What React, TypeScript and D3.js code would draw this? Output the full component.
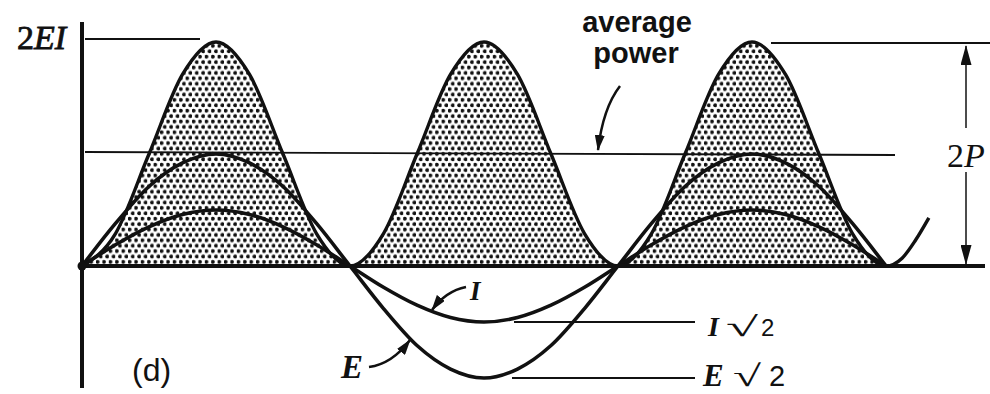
import React from 'react';
import * as d3 from 'd3';

const W = 990;
const H = 394;

// phase in half-cycles (zero crossings at 0, 1, 2, 3)
const phases = d3.range(0, 3.0001, 0.125);
// voltage E (relative amplitude 1)
const eValues = [0, 0.38, 0.71, 0.92, 1, 0.92, 0.71, 0.38, 0, -0.38, -0.71, -0.92, -1, -0.92, -0.71, -0.38, 0, 0.38, 0.71, 0.92, 1, 0.92, 0.71, 0.38, 0];
// current I (relative amplitude 0.5)
const iValues = [0, 0.19, 0.35, 0.46, 0.5, 0.46, 0.35, 0.19, 0, -0.19, -0.35, -0.46, -0.5, -0.46, -0.35, -0.19, 0, 0.19, 0.35, 0.46, 0.5, 0.46, 0.35, 0.19, 0];
// instantaneous power (peak 2EI = 2P)
const powerValues = [0, 0.29, 1, 1.71, 2, 1.71, 1, 0.29, 0, 0.29, 1, 1.71, 2, 1.71, 1, 0.29, 0, 0.29, 1, 1.71, 2, 1.71, 1, 0.29, 0];
const powerTailPhases = [3.06, 3.11, 3.16];
const powerTailValues = [0.07, 0.23, 0.43];
const averagePower = 1;
const peakPower = 2;

const x = d3.scaleLinear().domain([0, 3]).range([82, 886]);
const y = d3.scaleLinear().domain([0, 1]).range([266, 154]);

type Pt = [number, number];
const ePts: Pt[] = phases.map((p, i) => [p, eValues[i]]);
const iPts: Pt[] = phases.map((p, i) => [p, iValues[i]]);
const pPts: Pt[] = phases.map((p, i) => [p, powerValues[i]]);
const pAll: Pt[] = pPts.concat(powerTailPhases.map((p, i) => [p, powerTailValues[i]] as Pt));

const line = d3.line<Pt>().x(d => x(d[0])).y(d => y(d[1])).curve(d3.curveMonotoneX);
const area = d3.area<Pt>().x(d => x(d[0])).y0(y(0)).y1(d => y(d[1])).curve(d3.curveMonotoneX);

const serif = '"Liberation Serif", "DejaVu Serif", serif';
const sans = '"Liberation Sans", Arial, sans-serif';

export default function App() {
  const ink = '#111';
  return (
    <svg width={W} height={H} viewBox={`0 0 ${W} ${H}`} style={{ position: 'absolute', left: 0, top: 0, background: '#fff' }}>
      <defs>
        <pattern id="stipple" patternUnits="userSpaceOnUse" width="6.4" height="10.8">
          <rect width="6.4" height="10.8" fill="#fff" />
          <circle cx="1.6" cy="2.7" r="1.95" fill={ink} />
          <circle cx="4.8" cy="8.1" r="1.95" fill={ink} />
        </pattern>
        <marker id="ah" markerUnits="userSpaceOnUse" viewBox="0 0 16 10" refX="15" refY="5" markerWidth="16" markerHeight="10" orient="auto">
          <path d="M0,0 L16,5 L0,10 z" fill={ink} />
        </marker>
        <marker id="ah2" markerUnits="userSpaceOnUse" viewBox="0 0 20 11" refX="19" refY="5.5" markerWidth="20" markerHeight="11" orient="auto">
          <path d="M0,0 L20,5.5 L0,11 z" fill={ink} />
        </marker>
      </defs>

      {/* stippled power area */}
      <path d={area(pPts) || ''} fill="url(#stipple)" stroke="none" />

      {/* average power line */}
      <line x1={85} x2={895} y1={y(averagePower) - 2} y2={y(averagePower) + 1} stroke={ink} strokeWidth={1.8} />
      {/* 2EI reference line */}
      <line x1={85} x2={200} y1={y(peakPower) - 3} y2={y(peakPower) - 3} stroke={ink} strokeWidth={1.8} />
      {/* 2P reference line */}
      <line x1={771} x2={990} y1={y(peakPower) + 1} y2={y(peakPower) + 1} stroke={ink} strokeWidth={1.8} />

      {/* power curve */}
      <path d={line(pAll) || ''} fill="none" stroke={ink} strokeWidth={3.4} />
      {/* E and I curves */}
      <path d={line(ePts) || ''} fill="none" stroke={ink} strokeWidth={3.6} />
      <path d={line(iPts) || ''} fill="none" stroke={ink} strokeWidth={3.6} />

      {/* axes */}
      <line x1={80} x2={985} y1={y(0)} y2={y(0)} stroke={ink} strokeWidth={4} />
      <line x1={82} x2={82} y1={22} y2={388} stroke={ink} strokeWidth={4} />
      <circle cx={82} cy={y(0)} r={4.5} fill={ink} />

      {/* rms reference lines */}
      <line x1={514} x2={695} y1={y(-0.5)} y2={y(-0.5)} stroke={ink} strokeWidth={1.8} />
      <line x1={512} x2={695} y1={y(-1)} y2={y(-1)} stroke={ink} strokeWidth={1.8} />

      {/* 2P dimension arrow */}
      <line x1={966} x2={966} y1={128} y2={46} stroke={ink} strokeWidth={1.5} markerEnd="url(#ah2)" />
      <line x1={966} x2={966} y1={172} y2={264} stroke={ink} strokeWidth={1.5} markerEnd="url(#ah2)" />
      <text x={947} y={167} fontFamily={serif} fontSize={34} fill={ink}>
        2<tspan fontStyle="italic">P</tspan>
      </text>

      {/* 2EI label */}
      <text x={17} y={49} fontFamily={serif} fontSize={34} fill={ink} stroke={ink} strokeWidth={0.8}>
        2<tspan fontStyle="italic">EI</tspan>
      </text>

      {/* average power label */}
      <text x={637} y={32} textAnchor="middle" fontFamily={sans} fontWeight="bold" fontSize={29} fill={ink}>average</text>
      <text x={636} y={63} textAnchor="middle" fontFamily={sans} fontWeight="bold" fontSize={29} fill={ink}>power</text>
      <path d="M620,86 Q603,108 598,150" fill="none" stroke={ink} strokeWidth={2.5} markerEnd="url(#ah)" />

      {/* E and I labels */}
      <text x={341} y={378} fontFamily={serif} fontStyle="italic" fontWeight="bold" fontSize={33} fill={ink}>E</text>
      <path d="M369,367 Q392,364 410,340" fill="none" stroke={ink} strokeWidth={2.5} markerEnd="url(#ah)" />
      <text x={470} y={300} fontFamily={serif} fontStyle="italic" fontWeight="bold" fontSize={27} fill={ink}>I</text>
      <path d="M466,287 Q446,291 432,310" fill="none" stroke={ink} strokeWidth={2.5} markerEnd="url(#ah)" />

      {/* I√2 and E√2 labels */}
      <text x={708} y={336} fontFamily={serif} fontStyle="italic" fontWeight="bold" fontSize={28} fill={ink}>I</text>
      <text x={726} y={336} fontFamily={serif} fontSize={28} fill={ink} textLength={32} lengthAdjust="spacingAndGlyphs">√</text>
      <text x={761} y={336} fontFamily={sans} fontSize={24} fill={ink}>2</text>
      <text x={703} y={386} fontFamily={serif} fontStyle="italic" fontWeight="bold" fontSize={31} fill={ink}>E</text>
      <text x={733} y={386} fontFamily={serif} fontSize={30} fill={ink} textLength={28} lengthAdjust="spacingAndGlyphs">√</text>
      <text x={769} y={386} fontFamily={sans} fontSize={29} fill={ink}>2</text>

      {/* panel label */}
      <text x={132} y={381} fontFamily={sans} fontSize={32} fill={ink}>(d)</text>
    </svg>
  );
}
